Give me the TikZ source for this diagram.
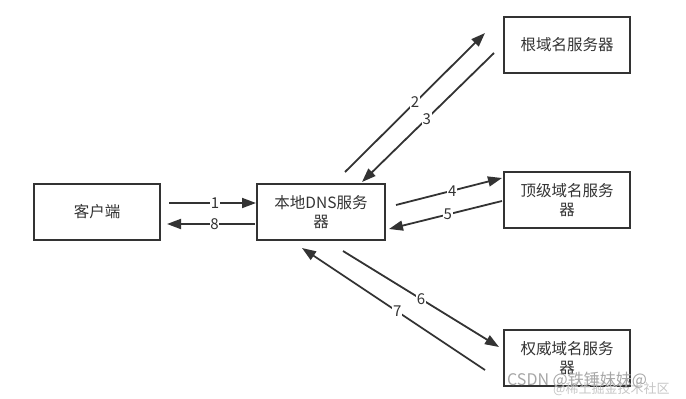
\documentclass[tikz,border=0pt]{standalone}
\usepackage{fontspec}
\setmainfont{Noto Sans CJK SC}
\usetikzlibrary{arrows.meta}
\definecolor{ink}{HTML}{333333}
\tikzset{
  srvbox/.style={draw=ink, line width=1.8pt, text=ink, minimum width=126pt, minimum height=56pt, align=center, inner sep=2pt, font=\fontsize{15.5}{19}\selectfont},
  conn/.style={draw=ink, line width=1.8pt, -{Triangle[length=14pt,width=10pt]}},
  num/.style={fill=white, text=ink, inner sep=0.8pt, font=\fontsize{15}{16}\selectfont},
  wm/.style={text=gray!70, inner sep=0pt, anchor=west}
}
\begin{document}
\begin{tikzpicture}[x=1pt,y=-1pt]
\useasboundingbox (0,0) rectangle (686,399);
\node[srvbox] (client) at (97,212) {客户端};
\node[srvbox, minimum width=128pt] (dns) at (321,212) {本地DNS服务\\器};
\node[srvbox] (root) at (567,45) {根域名服务器};
\node[srvbox] (tld) at (567,200) {顶级域名服务\\器};
\node[srvbox] (auth) at (567,358) {权威域名服务\\器};
% connector end points
\coordinate (c1s) at (169,203); \coordinate (c1e) at (256,203);
\coordinate (c8s) at (255,224); \coordinate (c8e) at (167,224);
\coordinate (c2s) at (345,172); \coordinate (c2e) at (485,33);
\coordinate (c3s) at (494,53);  \coordinate (c3e) at (362,182);
\coordinate (c4s) at (396,205); \coordinate (c4e) at (502,178);
\coordinate (c5s) at (502,201); \coordinate (c5e) at (389,229);
\coordinate (c6s) at (343,251); \coordinate (c6e) at (499,347);
\coordinate (c7s) at (485,370); \coordinate (c7e) at (302,248);
\draw[conn] (c1s) -- node[num, pos=0.53] (n1) {1} (c1e);
\draw[conn] (c8s) -- node[num, pos=0.46] (n8) {8} (c8e);
\draw[conn] (c2s) -- node[num, pos=0.5] (n2) {2} (c2e);
\draw[conn] (c3s) -- node[num, pos=0.51] (n3) {3} (c3e);
\draw[conn] (c4s) -- node[num, pos=0.53] (n4) {4} (c4e);
\draw[conn] (c5s) -- node[num, pos=0.48] (n5) {5} (c5e);
\draw[conn] (c6s) -- node[num, pos=0.5] (n6) {6} (c6e);
\draw[conn] (c7s) -- node[num, pos=0.48] (n7) {7} (c7e);
% watermark
\node[wm, font=\fontsize{13}{14}\selectfont, text=gray!45] (wm2) at (553,389) {@稀土掘金技术社区};
\node[wm, font=\fontsize{16}{17}\selectfont] (wm1) at (507,380) {CSDN @铁锤妹妹@};
\end{tikzpicture}
\end{document}
